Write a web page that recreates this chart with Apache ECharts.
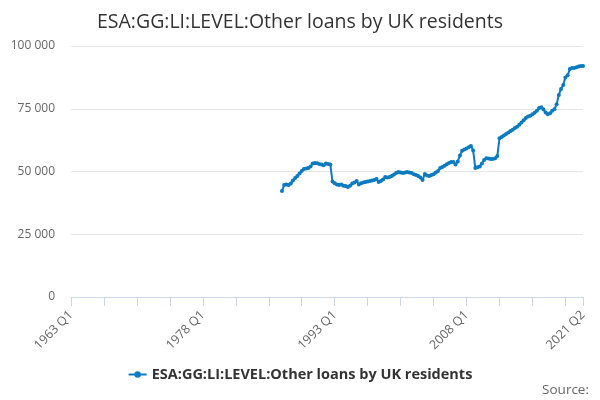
<!DOCTYPE html>
<html>
<head>
<meta charset="utf-8">
<script src="https://cdn.jsdelivr.net/npm/echarts@6/dist/echarts.min.js"></script>
<style>html,body{margin:0;padding:0;background:#fff}#c{width:600px;height:400px}</style>
</head>
<body>
<div id="c"></div>
<script>
var firstYear = 1963;
var lastYear = 2021;
var lastQuarter = 2;
var seriesName = 'ESA:GG:LI:LEVEL:Other loans by UK residents';
var seriesStart = '1987 Q1';
var values = [
42200,44600,44800,44600,45200,46400,47400,48200,49200,50200,51000,51200,51400,52000,53200,53400,
53300,53000,52800,52500,53200,53000,52800,46000,45300,44800,44600,44800,44300,44200,43800,44300,
45200,45600,46200,44800,45300,45600,45800,46000,46200,46400,46600,47000,45800,46200,46800,47800,
47600,47800,48200,48800,49400,49800,49600,49400,49600,49800,49600,49400,48900,48600,48200,47600,
46600,49000,48400,48200,48600,48900,49600,50200,51400,51800,52300,52900,53400,53800,53800,52800,
54000,56400,58300,58800,59200,59700,60200,58400,51400,51700,52000,53200,54600,55300,55200,55000,
55000,55300,56200,63200,63700,64300,64900,65500,66100,66600,67300,67800,68600,69500,70400,71300,
71900,72200,72800,73400,74200,75300,75600,74700,73500,72800,73200,74200,74800,76800,80500,82900,
84500,87500,88300,90800,91200,91200,91500,91800,92000,92000
];
var yTicks = [0, 25000, 50000, 75000, 100000];

var categories = [];
for (var y = firstYear; y <= lastYear; y++) {
  for (var q = 1; q <= 4; q++) {
    if (y === lastYear && q > lastQuarter) break;
    categories.push(y + ' Q' + q);
  }
}
var startIdx = categories.indexOf(seriesStart);
var data = categories.map(function (c, i) {
  var k = i - startIdx;
  return (k >= 0 && k < values.length) ? values[k] : null;
});
var lastIdx = categories.length - 1;

function fmt(v) { return String(v).replace(/\B(?=(\d{3})+(?!\d))/g, ' '); }

var chart = echarts.init(document.getElementById('c'));
chart.setOption({
  animation: false,
  backgroundColor: '#fff',
  title: {
    text: seriesName,
    left: 'center',
    top: 7,
    textStyle: { fontFamily: 'Open Sans', fontSize: 19.5, fontWeight: 'normal', color: '#333' }
  },
  legend: {
    bottom: 13,
    left: 'center',
    itemWidth: 18,
    itemHeight: 8,
    itemGap: 6,
    data: [{ name: seriesName }],
    textStyle: { fontFamily: 'Open Sans', fontSize: 14.5, fontWeight: 'bold', color: '#333' }
  },
  graphic: [{
    type: 'text',
    right: 11,
    bottom: 3,
    style: { text: 'Source:', fontFamily: 'Open Sans', fontSize: 13.5, fill: '#666' }
  }],
  grid: { left: 71, right: 17, top: 46, bottom: 103, containLabel: false },
  xAxis: {
    type: 'category',
    data: categories,
    boundaryGap: false,
    axisLine: { lineStyle: { color: '#ccd6eb' } },
    axisTick: {
      length: 9,
      lineStyle: { color: '#ccd6eb' },
      interval: function (i) { return i % 15 === 0 || i === lastIdx; }
    },
    axisLabel: {
      rotate: 45,
      margin: 16,
      fontFamily: 'Open Sans',
      fontSize: 12.5,
      color: '#666',
      interval: function (i) { return i % 60 === 0 || i === lastIdx; }
    },
    splitLine: { show: false }
  },
  yAxis: {
    type: 'value',
    min: 0,
    max: 100000,
    interval: 25000,
    axisLine: { show: false },
    axisTick: { show: false },
    axisLabel: {
      fontFamily: 'Open Sans', fontSize: 12, color: '#666', margin: 16,
      formatter: function (v) { return yTicks.indexOf(v) >= 0 ? fmt(v) : ''; }
    },
    splitLine: { lineStyle: { color: '#e6e6e6' } }
  },
  series: [{
    name: seriesName,
    type: 'line',
    data: data,
    connectNulls: false,
    symbol: 'circle',
    symbolSize: 4,
    showAllSymbol: true,
    itemStyle: { color: '#0a7bc1' },
    lineStyle: { color: '#0a7bc1', width: 2 }
  }]
});
</script>
</body>
</html>
